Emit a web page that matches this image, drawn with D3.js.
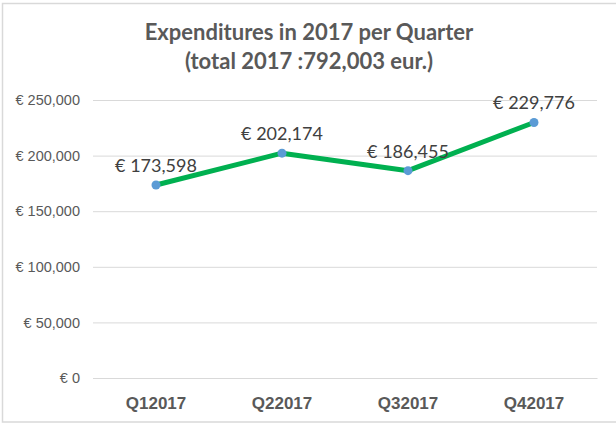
<!DOCTYPE html>
<html>
<head>
<meta charset="utf-8">
<script src="https://cdn.jsdelivr.net/npm/d3@7"></script>
<style>
  body { margin: 0; background: #fff; }
  svg { display: block; }
</style>
</head>
<body>
<div id="chart"></div>
<script>
const quarters = ['Q12017', 'Q22017', 'Q32017', 'Q42017']
const expenditures = [173598, 202174, 186455, 229776]
const yTicks = [0, 50000, 100000, 150000, 200000, 250000]
const titleLines = ['Expenditures in 2017 per Quarter', '(total 2017 :792,003 eur.)']

const width = 616
const height = 425
const margin = { top: 100, right: 19, bottom: 47, left: 93 }

const svg = d3.select('#chart')
  .append('svg')
  .attr('width', width)
  .attr('height', height)
  .style('font-family', 'Lato, "Open Sans", sans-serif')

// chart frame
svg.append('rect')
  .attr('x', 2.5)
  .attr('y', 3.5)
  .attr('width', width + 10)
  .attr('height', 418.5)
  .attr('fill', '#fff')
  .attr('stroke', '#d9d9d9')
  .attr('stroke-width', 1.5)

const x = d3.scaleBand()
  .domain(quarters)
  .range([margin.left, width - margin.right])

const y = d3.scaleLinear()
  .domain([0, 250000])
  .range([height - margin.bottom, margin.top])

const euro = v => `€ ${d3.format(',')(v)}`

// gridlines + y labels
const yAxis = d3.axisLeft(y)
  .tickValues(yTicks)
  .tickSize(-(width - margin.left - margin.right))
  .tickPadding(13)
  .tickFormat(euro)

svg.append('g')
  .attr('transform', `translate(${margin.left},0)`)
  .call(yAxis)
  .call(g => g.select('.domain').remove())
  .call(g => g.selectAll('.tick line').attr('stroke', '#d9d9d9').attr('stroke-width', 1))
  .call(g => g.selectAll('.tick text')
    .attr('fill', '#595959')
    .style('font-size', '14.5px'))

// x labels
const xAxis = d3.axisBottom(x).tickSize(0).tickPadding(19)
svg.append('g')
  .attr('transform', `translate(0,${height - margin.bottom})`)
  .call(xAxis)
  .call(g => g.select('.domain').attr('stroke', '#d9d9d9'))
  .call(g => g.selectAll('.tick text')
    .attr('fill', '#595959')
    .style('font-size', '17px')
    .style('font-weight', 'bold'))

const points = quarters.map((q, i) => ({ q, v: expenditures[i] }))

const line = d3.line()
  .x(d => x(d.q) + x.bandwidth() / 2)
  .y(d => y(d.v))

svg.append('path')
  .datum(points)
  .attr('d', line)
  .attr('fill', 'none')
  .attr('stroke', '#00b050')
  .attr('stroke-width', 5)
  .attr('stroke-linejoin', 'round')

svg.append('g')
  .selectAll('circle')
  .data(points)
  .join('circle')
  .attr('cx', d => x(d.q) + x.bandwidth() / 2)
  .attr('cy', d => y(d.v))
  .attr('r', 4.5)
  .attr('fill', '#5b9bd5')

svg.append('g')
  .selectAll('text')
  .data(points)
  .join('text')
  .attr('x', d => x(d.q) + x.bandwidth() / 2)
  .attr('y', d => y(d.v) - 13)
  .attr('text-anchor', 'middle')
  .attr('fill', '#404040')
  .style('font-size', '18px')
  .text(d => euro(d.v))

// title
svg.append('g')
  .selectAll('text')
  .data(titleLines)
  .join('text')
  .attr('x', 309)
  .attr('y', (d, i) => 40 + i * 29)
  .attr('text-anchor', 'middle')
  .attr('fill', '#595959')
  .style('font-size', '22px')
  .style('font-weight', 'bold')
  .text(d => d)
</script>
</body>
</html>
